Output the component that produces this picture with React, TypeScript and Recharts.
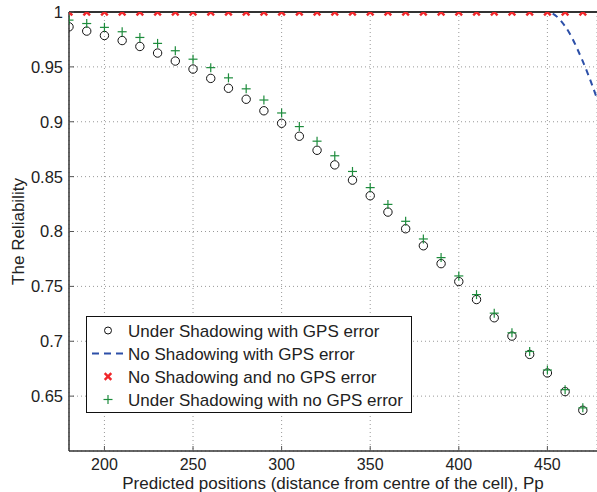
import React from 'react';
import { ComposedChart, Line, Scatter, XAxis, YAxis, CartesianGrid, ReferenceLine } from 'recharts';

const positions = [180, 190, 200, 210, 220, 230, 240, 250, 260, 270, 280, 290, 300, 310, 320, 330, 340, 350, 360, 370, 380, 390, 400, 410, 420, 430, 440, 450, 460, 470];

const shadowWithGps = [0.9865, 0.9826, 0.9786, 0.974, 0.9686, 0.9626, 0.9553, 0.948, 0.9395, 0.9305, 0.9205, 0.91, 0.8986, 0.8868, 0.874, 0.8607, 0.8468, 0.8326, 0.8177, 0.8025, 0.787, 0.7707, 0.7544, 0.738, 0.7214, 0.7047, 0.688, 0.6711, 0.6541, 0.6371];

const shadowNoGps = [0.9926, 0.9895, 0.986, 0.982, 0.9768, 0.9714, 0.9647, 0.957, 0.9493, 0.94, 0.93, 0.9198, 0.908, 0.8956, 0.8823, 0.869, 0.8547, 0.84, 0.8247, 0.8093, 0.7932, 0.7762, 0.7595, 0.7425, 0.7256, 0.7077, 0.6907, 0.6738, 0.6559, 0.6393];

const noShadowNoGps = [1, 1, 1, 1, 1, 1, 1, 1, 1, 1, 1, 1, 1, 1, 1, 1, 1, 1, 1, 1, 1, 1, 1, 1, 1, 1, 1, 1, 1, 1];

// dashed curve runs a little past the right edge of the axes
const gpsLineX = [180, 200, 250, 300, 350, 400, 440, 450, 460, 470, 480];
const gpsLineY = [1, 1, 1, 1, 1, 1, 1, 1, 0.987, 0.955, 0.912];

const xTicks = [200, 250, 300, 350, 400, 450];
const yTicks = [0.65, 0.7, 0.75, 0.8, 0.85, 0.9, 0.95, 1];

const legendItems = [
  'Under Shadowing with GPS error',
  'No Shadowing with GPS error',
  'No Shadowing and no GPS error',
  'Under Shadowing with no GPS error',
];

const FONT = '"Liberation Sans", Arial, Helvetica, sans-serif';
const TEXT = '#222';
const RED = '#f0262a';
const GREEN = '#1d8c3c';
const BLUE = '#2c4fa8';

const toPoints = (ys: number[]) => positions.map((x, i) => ({ x, y: ys[i] }));
const circleData = toPoints(shadowWithGps);
const plusData = toPoints(shadowNoGps);
const crossData = toPoints(noShadowNoGps);
const gpsLineData = gpsLineX.map((x, i) => ({ x, y: gpsLineY[i] }));

const Circle = ({ cx, cy }: any) => (
  <circle cx={cx} cy={cy} r={4.2} fill="none" stroke="#111" strokeWidth={1} />
);

const Plus = ({ cx, cy }: any) => (
  <g stroke={GREEN} strokeWidth={1.2}>
    <line x1={cx - 4.5} y1={cy} x2={cx + 4.5} y2={cy} />
    <line x1={cx} y1={cy - 4.5} x2={cx} y2={cy + 4.5} />
  </g>
);

const Cross = ({ cx, cy }: any) => (
  <g stroke={RED} strokeWidth={2.4}>
    <line x1={cx - 3.3} y1={cy - 3.3} x2={cx + 3.3} y2={cy + 3.3} />
    <line x1={cx - 3.3} y1={cy + 3.3} x2={cx + 3.3} y2={cy - 3.3} />
  </g>
);

const XTick = ({ x, y, payload }: any) => (
  <g>
    <line x1={x} y1={y} x2={x} y2={y - 5} stroke="#555" />
    <text x={x} y={y + 19} textAnchor="middle" fontSize={16} fontFamily={FONT} fill={TEXT}>
      {payload.value}
    </text>
  </g>
);

const YTick = ({ x, y, payload }: any) => (
  <g>
    <line x1={x} y1={y} x2={x + 5} y2={y} stroke="#555" />
    <text x={x - 6} y={y} dy="0.36em" textAnchor="end" fontSize={16.5} fontFamily={FONT} fill={TEXT}>
      {payload.value}
    </text>
  </g>
);

const LegendBox = () => (
  <svg
    width={327}
    height={98}
    style={{ position: 'absolute', left: 85.5, top: 315.5, overflow: 'visible' }}
  >
    <rect x={0.5} y={0.5} width={325} height={96} fill="#fff" stroke="#111" strokeWidth={1} />
    {legendItems.map((label, i) => {
      const cy = 14.5 + i * 23;
      const cx = 22;
      return (
        <g key={label}>
          {i === 0 && <circle cx={cx} cy={cy} r={3.5} fill="none" stroke="#111" />}
          {i === 1 && (
            <line x1={6} y1={cy} x2={38} y2={cy} stroke={BLUE} strokeWidth={2} strokeDasharray="7 5" />
          )}
          {i === 2 && <Cross cx={cx} cy={cy} />}
          {i === 3 && <Plus cx={cx} cy={cy} />}
          <text x={42} y={cy} dy="0.36em" fontSize={17} fontFamily={FONT} fill={TEXT}>
            {label}
          </text>
        </g>
      );
    })}
  </svg>
);

export default function App() {
  return (
    <div style={{ position: 'absolute', left: 0, top: 0, width: 597, height: 492, background: '#fff' }}>
      <ComposedChart width={597} height={492} margin={{ top: 12, right: 0, left: 0, bottom: 0 }}>
        <CartesianGrid stroke="#999" strokeDasharray="1 3" />
        <XAxis
          type="number"
          dataKey="x"
          domain={[180, 478]}
          allowDataOverflow
          ticks={xTicks}
          tick={<XTick />}
          tickLine={false}
          tickSize={0}
          tickMargin={0}
          height={41}
          axisLine={{ stroke: '#333', strokeWidth: 1.5 }}
          label={{
            value: 'Predicted positions (distance from centre of the cell), Pp',
            position: 'insideBottom',
            offset: 3,
            style: { fontSize: 17, fontFamily: FONT, fill: TEXT },
          }}
        />
        <YAxis
          type="number"
          dataKey="y"
          domain={[0.6, 1]}
          allowDataOverflow
          ticks={yTicks}
          tick={<YTick />}
          tickLine={false}
          tickSize={0}
          tickMargin={0}
          width={69}
          axisLine={{ stroke: '#333', strokeWidth: 1.5 }}
          label={{
            value: 'The Reliability',
            angle: -90,
            position: 'insideLeft',
            offset: 18,
            style: { fontSize: 17, fontFamily: FONT, fill: TEXT, textAnchor: 'middle' },
          }}
        />
        <Line
          data={gpsLineData}
          dataKey="y"
          type="monotone"
          stroke={BLUE}
          strokeWidth={2}
          strokeDasharray="6 5"
          dot={false}
          activeDot={false}
          isAnimationActive={false}
        />
        <ReferenceLine y={1} stroke="#333" strokeWidth={2} />
        <Scatter data={circleData} dataKey="y" shape={<Circle />} isAnimationActive={false} />
        <Scatter data={plusData} dataKey="y" shape={<Plus />} isAnimationActive={false} />
        <Scatter data={crossData} dataKey="y" shape={<Cross />} isAnimationActive={false} />
      </ComposedChart>
      <LegendBox />
    </div>
  );
}
